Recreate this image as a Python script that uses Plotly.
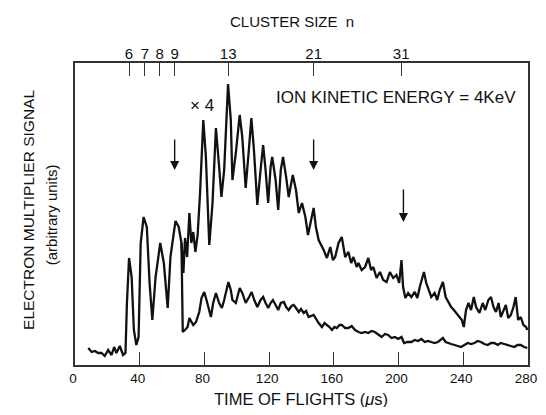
import plotly.graph_objects as go

# Time of flight (microseconds) and signal (arbitrary units)
t_upper = [8.2, 10.3, 12.3, 14.3, 16.4, 18.4, 20.5, 22.6, 24.2, 25.6,
           27.7, 29.7, 31.2, 32.1, 33.4, 35.0, 36.4, 37.9, 39.3, 40.6,
           42.4, 44.4, 46.1, 47.8, 49.8, 52.7, 54.9, 57.3, 59.0, 62.1,
           64.1, 65.8, 67.0, 68.0, 69.3, 70.7, 71.9, 73.1, 74.4, 75.8,
           77.3, 79.3, 80.9, 83.0, 85.0, 87.1, 89.1, 90.5, 92.2, 94.6,
           96.3, 97.3, 99.4, 101.8, 103.4, 105.5, 107.6, 109.0, 110.6, 112.7,
           114.7, 116.3, 117.8, 119.4, 120.9, 121.9, 124.0, 125.6, 127.2, 128.6,
           130.5, 132.1, 134.6, 136.6, 138.3, 140.3, 142.4, 144.0, 147.5, 148.9,
           150.6, 151.6, 153.7, 155.7, 157.8, 159.4, 160.8, 162.9, 164.9, 167.0,
           169.0, 170.7, 172.1, 174.1, 175.2, 177.2, 179.3, 181.3, 183.0, 184.4,
           186.4, 188.5, 190.5, 192.6, 194.6, 196.7, 198.7, 200.4, 201.8, 202.8,
           204.2, 205.9, 207.9, 210.0, 211.6, 213.1, 214.5, 215.7, 217.1, 218.8,
           220.2, 222.3, 223.9, 225.4, 227.4, 229.1, 230.9, 232.5, 234.2, 235.6,
           237.7, 239.1, 240.3, 241.7, 243.2, 244.8, 246.5, 247.9, 250.0, 252.0,
           253.6, 255.5, 257.1, 258.7, 260.2, 261.8, 263.2, 264.9, 266.3, 267.8,
           269.4, 271.0, 272.4, 273.9, 275.5, 277.2, 278.8, 279.6]
s_upper = [17, 13, 14, 12, 12, 9, 15, 10, 18, 12,
           19, 10, 12, 62, 107, 88, 35, 20, 28, 122,
           148, 138, 82, 45, 88, 122, 102, 57, 108, 144,
           138, 122, 92, 127, 108, 152, 122, 133, 113, 130,
           172, 245, 208, 120, 162, 237, 198, 168, 195, 281,
           245, 185, 212, 250, 228, 177, 218, 247, 215, 160,
           195, 220, 195, 162, 198, 208, 185, 155, 195, 208,
           188, 168, 190, 175, 152, 162, 148, 130, 157, 138,
           125, 122, 115, 107, 118, 105, 108, 122, 128, 108,
           113, 102, 108, 98, 102, 95, 98, 107, 95, 98,
           87, 93, 85, 83, 93, 87, 90, 82, 105, 78,
           67, 72, 68, 73, 67, 78, 85, 93, 82, 75,
           68, 72, 65, 75, 83, 68, 62, 58, 55, 52,
           48, 45, 38, 55, 62, 55, 68, 58, 52, 62,
           55, 65, 68, 58, 53, 62, 48, 55, 60, 47,
           50, 58, 68, 45, 48, 40, 38, 35]

t_lower = [65.8, 66.6, 68.0, 69.6, 70.7, 71.9, 73.1, 74.8, 76.8, 78.2,
           79.9, 81.3, 82.5, 84.0, 85.4, 87.1, 89.1, 90.8, 92.2, 94.8,
           96.3, 97.3, 99.4, 101.8, 103.4, 105.5, 107.6, 109.2, 110.8, 112.7,
           114.7, 116.3, 117.8, 119.4, 120.9, 122.3, 124.0, 125.6, 127.2, 129.1,
           130.5, 132.1, 133.8, 135.2, 136.6, 138.3, 139.7, 141.4, 142.8, 144.4,
           147.5, 148.9, 150.6, 152.6, 154.3, 155.7, 157.3, 158.8, 160.4, 161.8,
           163.5, 164.9, 167.0, 169.0, 171.0, 173.1, 175.2, 177.2, 179.3, 181.3,
           183.3, 185.4, 187.5, 189.5, 191.6, 193.6, 195.6, 197.7, 199.7, 201.8,
           203.4, 205.5, 207.9, 210.0, 212.0, 214.1, 216.2, 218.2, 220.2, 222.3,
           224.3, 227.4, 229.1, 230.5, 232.5, 234.6, 236.6, 238.6, 240.7, 242.8,
           244.8, 246.9, 248.9, 250.9, 253.0, 255.1, 257.1, 259.2, 261.2, 263.2,
           265.3, 267.4, 269.4, 271.5, 273.5, 275.5, 277.6, 279.6]
s_lower = [122, 33, 35, 38, 47, 43, 40, 43, 53, 67,
           73, 65, 57, 48, 62, 72, 62, 57, 65, 83,
           75, 65, 62, 77, 72, 62, 68, 73, 65, 58,
           65, 68, 62, 57, 62, 65, 60, 55, 62, 63,
           58, 55, 59, 60, 57, 53, 56, 52, 54, 48,
           50, 46, 42, 38, 42, 40, 38, 35, 38, 37,
           40, 40, 37, 37, 39, 35, 33, 32, 33, 32,
           34, 33, 30, 28, 31, 30, 27, 28, 26, 28,
           22, 23, 23, 25, 24, 26, 23, 24, 23, 22,
           23, 27, 23, 22, 21, 20, 19, 18, 20, 22,
           21, 22, 24, 23, 21, 20, 22, 22, 20, 22,
           21, 20, 19, 18, 20, 20, 18, 17]

x_ticks = [0, 40, 80, 120, 160, 200, 240, 280]
cluster_pos = [33.4, 43.2, 52.4, 61.6, 94.7, 147.5, 201.6]
cluster_labels = ["6", "7", "8", "9", "13", "21", "31"]
arrow_t = [61.6, 147.5, 203.0]
arrow_top = [227, 227, 177]
arrow_tip = [195, 195, 143]

FONT = "Liberation Sans, Arial, sans-serif"
INK = "#111111"

fig = go.Figure()
fig.add_trace(go.Scatter(x=t_upper, y=s_upper, mode="lines",
                         line=dict(color=INK, width=2.3), showlegend=False))
fig.add_trace(go.Scatter(x=t_lower, y=s_lower, mode="lines",
                         line=dict(color=INK, width=2.3), showlegend=False))
fig.add_trace(go.Scatter(x=[0, 280], y=[None, None], xaxis="x2", mode="lines",
                         showlegend=False, hoverinfo="skip"))

for xa, yt, yb in zip(arrow_t, arrow_top, arrow_tip):
    fig.add_annotation(x=xa, y=yb, ax=xa, ay=yt, xref="x", yref="y",
                       axref="x", ayref="y", text="", showarrow=True,
                       arrowhead=2, arrowsize=1.3, arrowwidth=1.4,
                       arrowcolor=INK)

def label(text, x, y, size, xref="paper", yref="paper", angle=0):
    fig.add_annotation(x=x, y=y, xref=xref, yref=yref, text=text,
                       textangle=angle, showarrow=False,
                       xanchor="center", yanchor="middle",
                       font=dict(size=size, color=INK, family=FONT))

label("× 4", 78.7, 260, 17, "x", "y")
label("ION KINETIC ENERGY\u00a0=\u00a04KeV", 198.2, 268, 17, "x", "y")
label("CLUSTER SIZE\u00a0\u00a0n", 0.48, 1.139, 15)
label("TIME OF FLIGHTS (<i>μ</i>s)", 0.498, -0.1125, 16.5)
label("ELECTRON MULTIPLIER SIGNAL", -0.104, 0.513, 15.5, angle=-90)
label("(arbitrary units)", -0.05, 0.497, 15, angle=-90)

fig.update_layout(
    width=530, height=399,
    margin=dict(l=67, r=10, t=55, b=42, autoexpand=False),
    paper_bgcolor="white", plot_bgcolor="white",
    font=dict(family=FONT, size=15, color=INK),
    xaxis=dict(range=[0, 280], tickvals=x_ticks, ticks="inside", ticklen=13,
               tickwidth=1.2, tickcolor="#333", showline=True, linecolor="#333",
               linewidth=1.5, mirror=True, showgrid=False, zeroline=False,
               automargin=False,
               tickfont=dict(size=13.5, family=FONT, color=INK),
               ticklabeloverflow="allow", ticklabelshift=-2),
    xaxis2=dict(range=[0, 280], overlaying="x", side="top", matches="x",
                tickvals=cluster_pos, ticktext=cluster_labels, ticks="inside",
                ticklen=13, tickwidth=1.2, tickcolor="#333", showgrid=False,
                zeroline=False, showline=False, automargin=False,
                tickfont=dict(size=15, family=FONT, color=INK)),
    yaxis=dict(range=[0, 302], showticklabels=False, ticks="", showgrid=False,
               zeroline=False, showline=True, linecolor="#333", linewidth=1.5,
               mirror=True, automargin=False),
)

fig.write_html("out.html")
